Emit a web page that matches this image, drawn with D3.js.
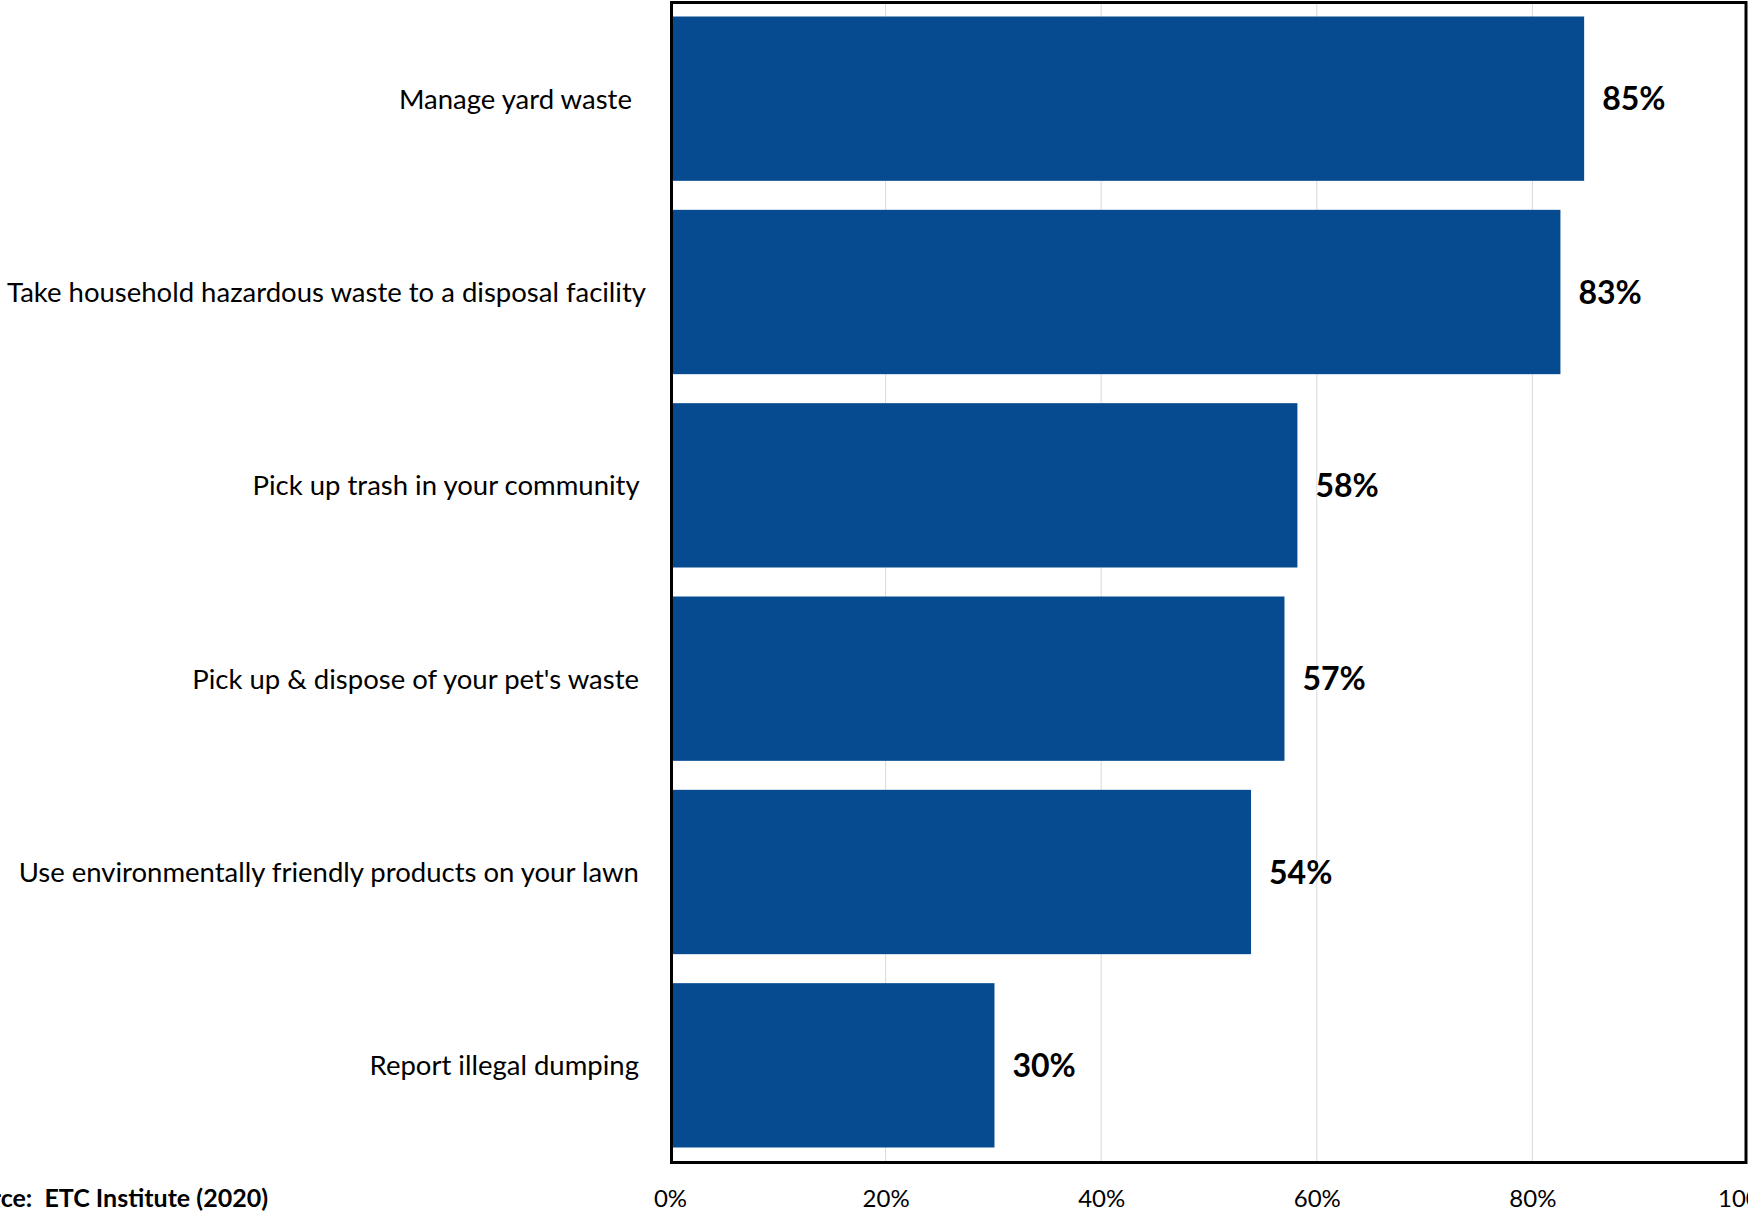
<!DOCTYPE html>
<html>
<head>
<meta charset="utf-8">
<script src="https://cdn.jsdelivr.net/npm/d3@7"></script>
<style>
  html, body { margin: 0; padding: 0; background: #ffffff; }
  svg { display: block; }
  text { white-space: pre; }
</style>
</head>
<body>
<svg id="chart" width="1748" height="1211"></svg>
<script>
const categories = [
  "Manage yard waste  ",
  "Take household hazardous waste to a disposal facility",
  "Pick up trash in your community ",
  "Pick up & dispose of your pet's waste ",
  "Use environmentally friendly products on your lawn ",
  "Report illegal dumping "
];
const values = [84.8, 82.6, 58.2, 57.0, 53.9, 30.1];
const tickValues = [0, 20, 40, 60, 80, 100];
const tickLabels = ["0%", "20%", "40%", "60%", "80%", "100%"];
const sourceText = "Source:  ETC Institute (2020)";

(function () {
const W = 1748, H = 1211;
const pLeft = 670, pRight = 1748, pTop = 2, pBottom = 1162;
const font = "Lato, 'Open Sans', sans-serif";

const svg = d3.select("#chart");
svg.append("rect").attr("width", W).attr("height", H).attr("fill", "#fff");

const x = d3.scaleLinear().domain([0, 100]).range([pLeft, pRight]);
const y = d3.scaleBand().domain(categories).range([pTop, pBottom])
  .paddingInner(0.15).paddingOuter(0.075);

// gridlines
svg.append("g").selectAll("line")
  .data(tickValues.filter(t => t > 0 && t < 100))
  .join("line")
  .attr("x1", d => x(d)).attr("x2", d => x(d))
  .attr("y1", pTop).attr("y2", pBottom)
  .attr("stroke", "#d9d9d9").attr("stroke-width", 1);

// bars
const data = categories.map((c, i) => ({ c, v: values[i] }));
svg.append("g").selectAll("rect")
  .data(data).join("rect")
  .attr("x", x(0))
  .attr("y", d => y(d.c))
  .attr("width", d => x(d.v) - x(0))
  .attr("height", y.bandwidth())
  .attr("fill", "#064A8F");

// value labels
svg.append("g").selectAll("text")
  .data(data).join("text")
  .attr("x", d => x(d.v) + 18)
  .attr("y", d => y(d.c) + y.bandwidth() / 2)
  .attr("dy", "0.36em")
  .attr("font-family", font)
  .attr("font-weight", "bold")
  .attr("font-size", 32)
  .attr("fill", "#000")
  .text(d => Math.round(d.v) + "%");

// frame
svg.append("rect")
  .attr("x", pLeft + 1.5).attr("y", pTop + 0.5)
  .attr("width", 1746 - pLeft - 1.5).attr("height", pBottom - pTop)
  .attr("fill", "none").attr("stroke", "#000").attr("stroke-width", 3);

// y axis labels
const yAxis = d3.axisLeft(y).tickSize(0).tickPadding(0);
const gy = svg.append("g").attr("transform", "translate(646,0)").call(yAxis);
gy.select(".domain").remove();
gy.selectAll("text")
  .attr("font-family", font)
  .attr("font-size", 27.5)
  .attr("fill", "#000")
  .attr("dy", "0.36em");

// x axis labels
const xAxis = d3.axisBottom(x).tickValues(tickValues).tickSize(0).tickPadding(0)
  .tickFormat((d, i) => tickLabels[i]);
const gx = svg.append("g").attr("transform", "translate(0,1207)").call(xAxis);
gx.select(".domain").remove();
gx.selectAll("text")
  .attr("font-family", font)
  .attr("font-size", 24)
  .attr("fill", "#000")
  .attr("dy", 0)
  .attr("y", 0);

// source
svg.append("text")
  .attr("x", 268).attr("y", 1207)
  .attr("text-anchor", "end")
  .attr("font-family", font)
  .attr("font-weight", "bold")
  .attr("font-size", 25)
  .attr("fill", "#000")
  .text(sourceText);
})();
</script>
</body>
</html>
